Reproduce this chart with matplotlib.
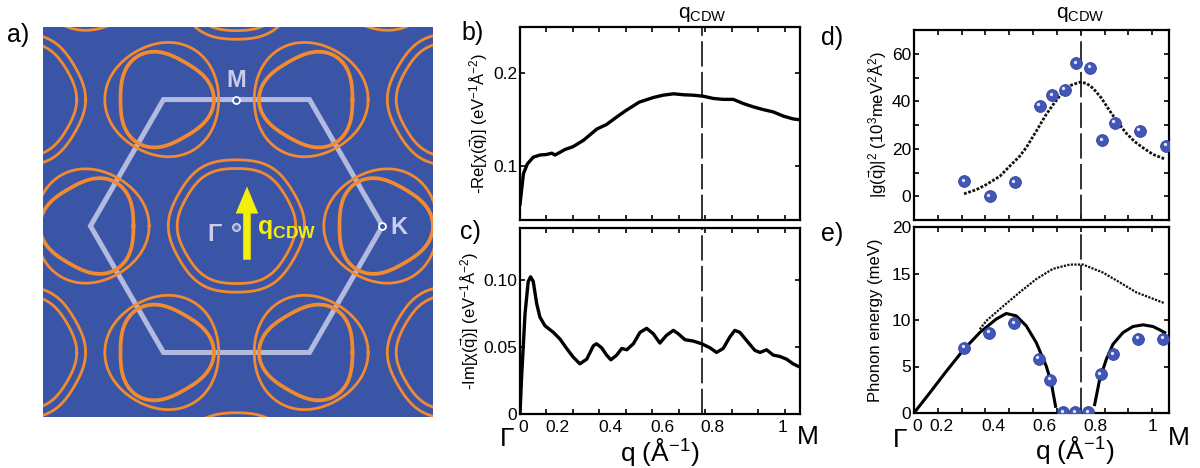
import numpy as np
import matplotlib
matplotlib.use('Agg')
import matplotlib.pyplot as plt
from matplotlib.patches import FancyArrowPatch, Polygon
from matplotlib.transforms import ScaledTranslation

plt.rcParams['font.family'] = ['Liberation Sans', 'DejaVu Sans']
plt.rcParams['mathtext.fontset'] = 'custom'
plt.rcParams['mathtext.rm'] = 'Liberation Sans'
plt.rcParams['mathtext.it'] = 'Liberation Sans:italic'
plt.rcParams['mathtext.bf'] = 'Liberation Sans:bold'

# ---- panel a: Fermi surface sketch (units of Gamma-K distance)
gamma_ring_radii = [0.46, 0.40]
pocket_radii = [0.39, 0.32]
pocket_warp = [0.03, -0.08]

# ---- panel b: -Re chi(q)
re_q = [0.0, 0.013, 0.028, 0.05, 0.075, 0.10, 0.12, 0.132, 0.151, 0.17, 0.20, 0.24,
        0.29, 0.327, 0.365, 0.40, 0.45, 0.503, 0.54, 0.58, 0.616, 0.654, 0.69, 0.73,
        0.767, 0.805, 0.843, 0.88, 0.918, 0.956, 0.994, 1.03, 1.057]
re_chi = [0.059, 0.092, 0.1025, 0.1097, 0.112, 0.1126, 0.114, 0.112, 0.115, 0.118,
          0.121, 0.128, 0.140, 0.145, 0.153, 0.160, 0.169, 0.174, 0.1765, 0.178,
          0.177, 0.1765, 0.1755, 0.173, 0.172, 0.172, 0.1675, 0.164, 0.161, 0.1585,
          0.154, 0.151, 0.150]

# ---- panel c: -Im chi(q)
im_q = [0.0, 0.006, 0.019, 0.031, 0.04, 0.05, 0.063, 0.075, 0.094, 0.126, 0.151,
        0.176, 0.201, 0.226, 0.252, 0.277, 0.289, 0.308, 0.327, 0.343, 0.365, 0.384,
        0.403, 0.428, 0.453, 0.478, 0.503, 0.528, 0.553, 0.579, 0.597, 0.623, 0.654,
        0.686, 0.717, 0.742, 0.767, 0.792, 0.811, 0.830, 0.855, 0.887, 0.906, 0.931,
        0.956, 0.981, 1.006, 1.031, 1.057]
im_chi = [0.0, 0.0275, 0.075, 0.099, 0.1025, 0.099, 0.0825, 0.0725, 0.066, 0.061,
          0.056, 0.049, 0.0425, 0.0375, 0.041, 0.051, 0.0525, 0.0495, 0.044, 0.0405,
          0.044, 0.049, 0.048, 0.0525, 0.061, 0.064, 0.060, 0.053, 0.0588, 0.0625,
          0.060, 0.0555, 0.0545, 0.0525, 0.0495, 0.046, 0.049, 0.0575, 0.0625, 0.061,
          0.055, 0.0475, 0.046, 0.048, 0.044, 0.043, 0.041, 0.0375, 0.035]

# ---- panel d: |g(q)|^2
g_q = [0.21, 0.317, 0.422, 0.527, 0.579, 0.632, 0.681, 0.74, 0.79, 0.842, 0.947, 1.059]
g_val = [6.3, 0.0, 6.0, 38.2, 42.5, 44.9, 55.9, 54.2, 23.6, 30.9, 27.6, 21.3]
g_fit_q = [0.21, 0.262, 0.303, 0.36, 0.401, 0.443, 0.471, 0.513, 0.555, 0.583, 0.625,
           0.66, 0.695, 0.723, 0.751, 0.786, 0.821, 0.856, 0.891, 0.926, 0.961, 1.003, 1.052]
g_fit = [1.0, 2.8, 4.9, 8.4, 12.6, 16.8, 20.5, 27.4, 34.5, 38.5, 44.0, 46.8, 48.0,
         47.6, 45.5, 41.4, 36.0, 31.0, 26.5, 23.0, 20.4, 17.6, 15.7]

# ---- panel e: phonon energy
ph_q = [0.21, 0.315, 0.42, 0.524, 0.572, 0.625, 0.677, 0.73, 0.783, 0.835, 0.94, 1.045]
ph_e = [7.03, 8.65, 9.66, 5.84, 3.6, 0.1, 0.07, 0.07, 4.2, 6.3, 8.0, 8.0]
soft_left_q = [0.0, 0.066, 0.136, 0.206, 0.276, 0.345, 0.387, 0.429, 0.471, 0.513,
               0.555, 0.576, 0.594]
soft_left_e = [0.0, 2.16, 4.5, 6.74, 8.65, 10.1, 10.7, 10.45, 9.37, 7.57, 5.04, 3.24, 0.72]
soft_right_q = [0.758, 0.779, 0.807, 0.835, 0.877, 0.919, 0.961, 1.003, 1.031, 1.052]
soft_right_e = [0.9, 3.6, 5.77, 7.4, 8.65, 9.3, 9.48, 9.3, 8.94, 8.65]
bare_q = [0.276, 0.303, 0.373, 0.443, 0.513, 0.583, 0.653, 0.709, 0.793, 0.863, 0.933, 1.052]
bare_e = [9.0, 9.9, 11.46, 12.97, 14.4, 15.5, 15.96, 15.96, 15.1, 14.05, 12.97, 11.8]

q_cdw_bc = 0.688
q_cdw_de = 0.70
xtick_vals = [0, 0.2, 0.4, 0.6, 0.8, 1.0]
xtick_labels = ['0', '0.2', '0.4', '0.6', '0.8', '1']

W, H = 1200, 468
BLUE_BG = '#3b55a6'
ORANGE = '#f28a30'
HEX_COL = '#c9cdea'
DOT_COL = '#4256b8'


def px_axes(fig, x0, y0, x1, y1):
    return fig.add_axes([x0 / W, 1 - y1 / H, (x1 - x0) / W, (y1 - y0) / H])


def fig_text(fig, x, y, s, **kw):
    kw.setdefault('ha', 'center')
    kw.setdefault('va', 'center')
    fig.text(x / W, 1 - y / H, s, **kw)


def plot_panel_a(fig):
    ax = px_axes(fig, 43, 27, 433, 417)
    ax.set_facecolor(BLUE_BG)
    ax.set_xlim(-1.325, 1.346)
    ax.set_ylim(-1.308, 1.363)
    for s in ax.spines.values():
        s.set_visible(False)
    ax.set_xticks([])
    ax.set_yticks([])

    th = np.linspace(0, 2 * np.pi, 361)
    b1 = np.array([1.5, np.sqrt(3) / 2])
    b2 = np.array([0.0, np.sqrt(3)])
    gammas = [i * b1 + j * b2 for i in range(-2, 3) for j in range(-2, 3)]
    # gamma rings
    for g in gammas:
        for r in gamma_ring_radii:
            rr = r * (1 + 0.015 * np.cos(6 * th))
            ax.plot(g[0] + rr * np.cos(th), g[1] + rr * np.sin(th), color=ORANGE, lw=2.0)
    # K pockets, triangular warping set by the surrounding gamma points
    kpts = {}
    for g in gammas:
        for k in range(6):
            phi = k * np.pi / 3
            p = g + np.array([np.cos(phi), np.sin(phi)])
            key = (round(p[0], 3), round(p[1], 3))
            kpts[key] = phi + np.pi
    for (kx, ky), dirg in kpts.items():
        for r, w, lw in zip(pocket_radii, pocket_warp, [2.0, 2.7]):
            rr = r * (1 + w * np.cos(3 * (th - dirg)))
            ax.plot(kx + rr * np.cos(th), ky + rr * np.sin(th), color=ORANGE, lw=lw)

    hexv = [(np.cos(k * np.pi / 3), np.sin(k * np.pi / 3)) for k in range(6)]
    ax.add_patch(Polygon(hexv, closed=True, fill=False, ec=HEX_COL, lw=3.6, alpha=0.85,
                         joinstyle='miter'))

    m = (0, np.sqrt(3) / 2)
    for p in [m, (1, 0)]:
        ax.plot(*p, 'o', ms=5, mfc=BLUE_BG, mec='white', mew=1.3)
    ax.plot(0, -0.01, 'o', ms=5.5, mfc='#9aa0c8', mec='#c8cce8', mew=1)
    ax.plot(0, -0.01, 'o', ms=1.8, color='#5a64a0')
    ax.text(0, 1.0, 'M', color=HEX_COL, fontsize=17, fontweight='bold', ha='center', va='center')
    ax.text(1.11, -0.01, 'K', color=HEX_COL, fontsize=17, fontweight='bold', ha='center', va='center')
    ax.text(-0.15, -0.06, 'Γ', color=HEX_COL, fontsize=17, fontweight='bold', ha='center', va='center')
    ax.add_patch(FancyArrowPatch((0.072, -0.25), (0.072, 0.29),
                                 arrowstyle='simple,head_length=1.5,head_width=1.25,tail_width=0.42',
                                 mutation_scale=13, color='#f3ee0a', lw=0))
    ax.text(0.14, -0.02, r'$\mathbf{q}_{\mathbf{CDW}}$', color='#f3ee0a', fontsize=18,
            ha='left', va='center')
    fig_text(fig, 18, 35, 'a)', fontsize=18)


def style_axes(ax, xmax):
    ax.set_xlim(0, xmax)
    for s in ax.spines.values():
        s.set_linewidth(1.6)
    ax.set_xticks(xtick_vals)
    ax.set_xticks(np.arange(0.1, 1.05, 0.2), minor=True)
    ax.tick_params(which='both', direction='in', top=True, right=True, length=3.5,
                   width=1.2, labelsize=12.5, pad=2)
    ax.tick_params(axis='x', labelbottom=False)


def x_labels(fig, ax, offsets):
    # the original puts the q labels a little left of their ticks
    for xv, lab, dx in zip(xtick_vals, xtick_labels, offsets):
        tr = ax.get_xaxis_transform() + ScaledTranslation(dx / 100, -6 / 100, fig.dpi_scale_trans)
        ax.text(xv, 0, lab, transform=tr, ha='center', va='top', fontsize=12.5)


def plot_panels_bc(fig):
    ax_b = px_axes(fig, 520, 27, 800, 220)
    ax_c = px_axes(fig, 520, 228, 800, 414)
    for ax in (ax_b, ax_c):
        style_axes(ax, 1.057)
        ax.axvline(q_cdw_bc, color='#222222', lw=1.3, ls=(0, (14, 3)))
    ax_b.plot(re_q, re_chi, color='black', lw=2.4, solid_joinstyle='round')
    ax_b.set_ylim(0.042, 0.25)
    ax_b.set_yticks([0.1, 0.2])
    ax_b.set_yticklabels(['0.1', '0.2'])
    ax_b.set_ylabel(r'-Re[$\mathregular{\chi(\vec{q})}$] (eV$^{-1}$Å$^{-2}$)', fontsize=12, labelpad=2)

    ax_c.plot(im_q, im_chi, color='black', lw=2.4, solid_joinstyle='round')
    ax_c.set_ylim(0, 0.139)
    ax_c.set_yticks([0, 0.05, 0.10])
    ax_c.set_yticklabels(['0', '0.05', '0.10'])
    x_labels(fig, ax_c, [3, -16, -16, -17, -19, -2])
    ax_c.set_ylabel(r'-Im[$\mathregular{\chi(\vec{q})}$] (eV$^{-1}$Å$^{-2}$)', fontsize=12, labelpad=2)

    fig_text(fig, 702, 15, r'q$_{\mathrm{CDW}}$', fontsize=15)
    fig_text(fig, 473, 33, 'b)', fontsize=18)
    fig_text(fig, 470, 232, 'c)', fontsize=18)
    fig_text(fig, 507, 439, 'Γ', fontsize=19)
    fig_text(fig, 808, 437, 'M', fontsize=19)
    fig_text(fig, 660, 452, 'q (Å$^{-1}$)', fontsize=19)


def plot_spheres(ax, fig, x, y):
    ax.plot(x, y, 'o', ms=8.5, color=DOT_COL, mec='#34449a', mew=0.6, zorder=4)
    tr = ax.transData + ScaledTranslation(-1.4 / 100, 1.4 / 100, fig.dpi_scale_trans)
    ax.plot(x, y, 'o', ms=2.4, color='#dfe4ff', mew=0, transform=tr, zorder=5)


def plot_panels_de(fig):
    ax_d = px_axes(fig, 914, 30, 1169, 220)
    ax_e = px_axes(fig, 914, 227, 1169, 413)
    for ax in (ax_d, ax_e):
        style_axes(ax, 1.07)
        ax.axvline(q_cdw_de, color='#222222', lw=1.3, ls=(0, (14, 3)))
    ax_d.plot(g_fit_q, g_fit, color='#111111', lw=2.0, ls=(0, (1, 0.6)))
    plot_spheres(ax_d, fig, g_q, g_val)
    ax_d.set_ylim(-10, 70)
    ax_d.set_yticks([0, 20, 40, 60])
    ax_d.set_yticks([10, 30, 50], minor=True)
    ax_d.set_yticklabels(['0', '20', '40', '60'])
    ax_d.set_ylabel(r'|g($\mathregular{\vec{q}}$)|$^2$ (10$^3$meV$^2$Å$^2$)', fontsize=12, labelpad=2)

    ax_e.plot(bare_q, bare_e, color='#111111', lw=1.6, ls=(0, (1, 0.6)))
    ax_e.plot(soft_left_q, soft_left_e, color='black', lw=2.2)
    ax_e.plot(soft_right_q, soft_right_e, color='black', lw=2.2)
    plot_spheres(ax_e, fig, ph_q, ph_e)
    ax_e.set_ylim(0, 20)
    ax_e.set_yticks([0, 5, 10, 15, 20])
    ax_e.set_yticklabels(['0', '5', '10', '15', '20'])
    x_labels(fig, ax_e, [3, -20, -16, -13, -9, 0])
    ax_e.set_ylabel('Phonon energy (meV)', fontsize=12, labelpad=6)

    fig_text(fig, 1080, 15, r'q$_{\mathrm{CDW}}$', fontsize=15)
    fig_text(fig, 832, 38, 'd)', fontsize=18)
    fig_text(fig, 832, 234, 'e)', fontsize=18)
    fig_text(fig, 900, 440, 'Γ', fontsize=19)
    fig_text(fig, 1179, 438, 'M', fontsize=19)
    fig_text(fig, 1075, 450, 'q (Å$^{-1}$)', fontsize=19)


def main():
    fig = plt.figure(figsize=(12, 4.68), dpi=100)
    plot_panel_a(fig)
    plot_panels_bc(fig)
    plot_panels_de(fig)
    fig.savefig('out.png', dpi=100)


if __name__ == '__main__':
    main()
